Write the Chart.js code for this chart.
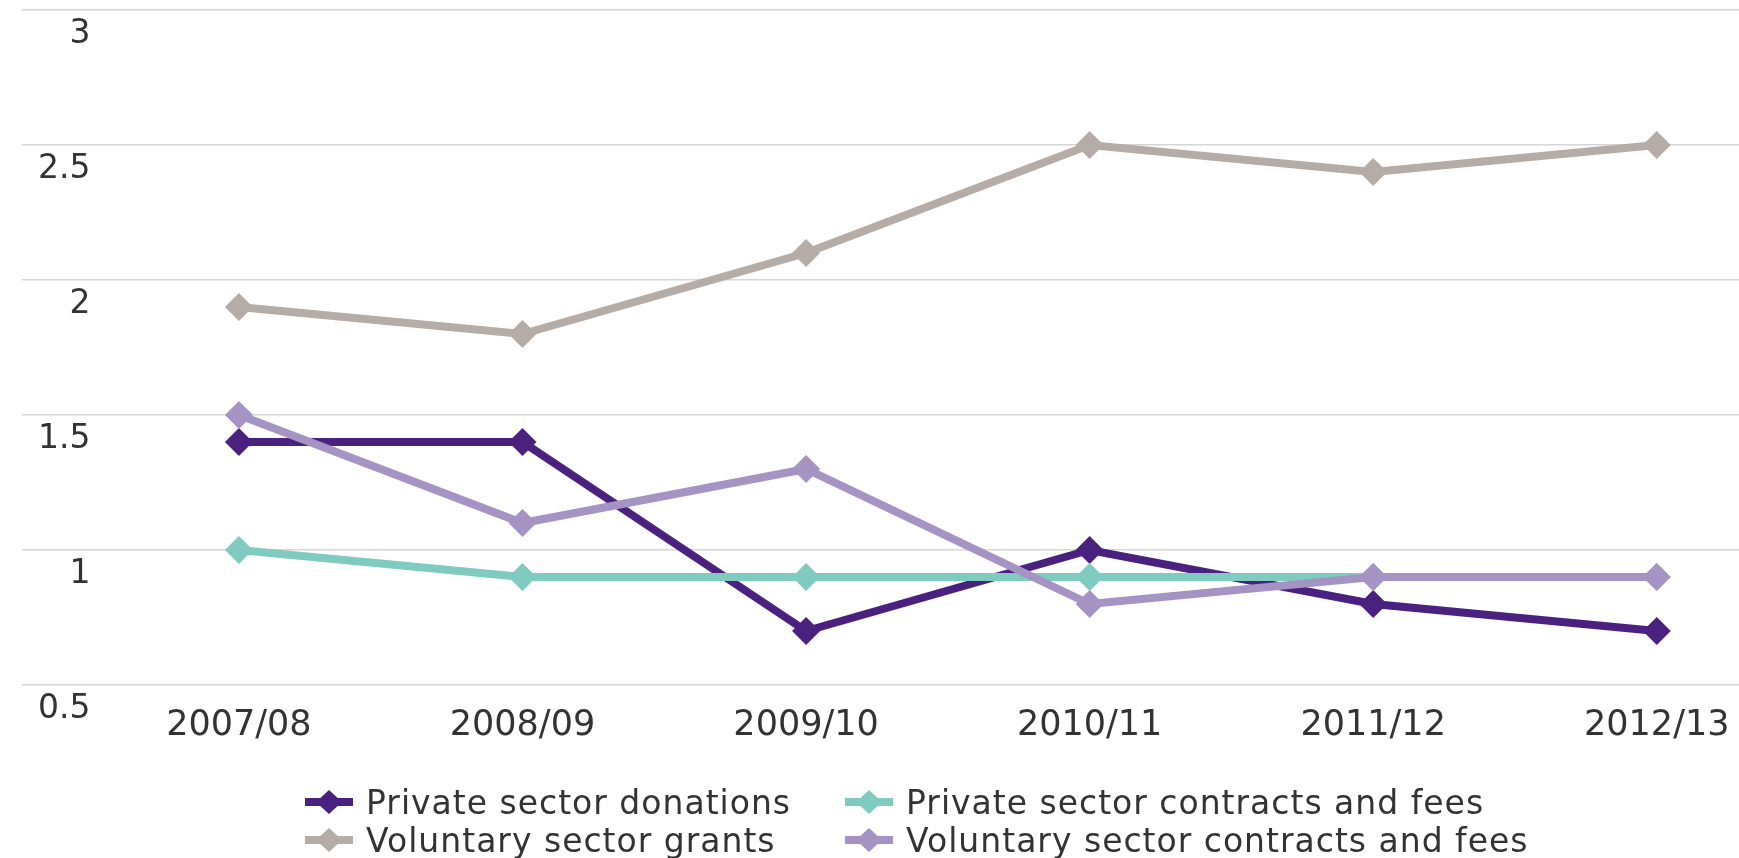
<!DOCTYPE html>
<html>
<head>
<meta charset="utf-8">
<title>Income by source</title>
<script src="https://cdn.jsdelivr.net/npm/chart.js@4.4.1/dist/chart.umd.min.js"></script>
<style>
  html, body { margin: 0; padding: 0; background: #fff; }
  #wrap { position: relative; width: 1739px; height: 858px; }
  #legend {
    position: absolute; left: 305px; top: 783px;
    display: grid; grid-template-columns: 540px auto;
  }
  .item {
    display: flex; align-items: center; height: 38px;
    font-family: "DejaVu Sans"; font-size: 33px; letter-spacing: 1px;
    color: #333; white-space: nowrap;
  }
  .item svg { margin-right: 13px; flex: none; }
</style>
</head>
<body>
<div id="wrap">
  <canvas id="incomeChart" width="1739" height="858"></canvas>
  <div id="legend"></div>
</div>
<script>
const periods = ['2007/08', '2008/09', '2009/10', '2010/11', '2011/12', '2012/13'];
const privateDonations = [1.4, 1.4, 0.7, 1.0, 0.8, 0.7];
const privateContracts = [1.0, 0.9, 0.9, 0.9, 0.9, 0.9];
const voluntaryGrants = [1.9, 1.8, 2.1, 2.5, 2.4, 2.5];
const voluntaryContracts = [1.5, 1.1, 1.3, 0.8, 0.9, 0.9];
const yTicks = [0.5, 1, 1.5, 2, 2.5, 3];

const toPoints = values => values.map((y, i) => ({ x: i, y: y }));

// order: lower numbers are painted last, so voluntary contracts sit on top
function series(label, values, color, order) {
    return {
        label: label,
        data: toPoints(values),
        order: order,
        borderColor: color,
        backgroundColor: color,
        borderWidth: 8,
        pointStyle: 'rectRot',
        pointRadius: 14,
        pointHoverRadius: 14,
        pointBorderWidth: 0,
        tension: 0
    };
}

const chart = new Chart(document.getElementById('incomeChart'), {
    type: 'line',
    data: {
        datasets: [
            series('Private sector donations', privateDonations, '#4b2180', 3),
            series('Private sector contracts and fees', privateContracts, '#7fcbbf', 2),
            series('Voluntary sector grants', voluntaryGrants, '#b6aca7', 1),
            series('Voluntary sector contracts and fees', voluntaryContracts, '#a593c4', 0)
        ]
    },
    options: {
        responsive: false,
        animation: false,
        events: [],
        layout: { autoPadding: false, padding: { left: 22, top: 10, right: 0, bottom: 91 } },
        plugins: {
            legend: { display: false },
            tooltip: { enabled: false }
        },
        scales: {
            x: {
                type: 'linear',
                bounds: 'data',
                min: -0.765,
                max: 5.29,
                afterBuildTicks: axis => { axis.ticks = periods.map((p, i) => ({ value: i })); },
                afterFit: axis => {
                    axis.paddingLeft = 0;
                    axis.paddingRight = 0;
                },
                grid: { display: false, drawTicks: false },
                border: { display: false },
                ticks: {
                    autoSkip: false,
                    maxRotation: 0,
                    padding: 20,
                    color: '#333',
                    font: { family: 'DejaVu Sans', size: 35 },
                    callback: v => periods[v]
                }
            },
            y: {
                min: yTicks[0],
                max: yTicks[yTicks.length - 1],
                afterBuildTicks: axis => { axis.ticks = yTicks.map(value => ({ value })); },
                // labels sit inside the plot, so the axis itself takes no room
                afterFit: axis => {
                    axis.width = 0;
                    axis.paddingTop = 0;
                    axis.paddingBottom = 0;
                },
                grid: { color: '#d6d6d6', lineWidth: 1.5, drawTicks: false },
                border: { display: false },
                ticks: {
                    mirror: true,
                    crossAlign: 'far',
                    padding: 16,
                    labelOffset: 24,
                    color: '#333',
                    font: { family: 'DejaVu Sans', size: 33 },
                    callback: v => String(v)
                }
            }
        }
    }
});

// legend below the plot, two columns, line + diamond marker per series
const legendBox = document.getElementById('legend');
chart.data.datasets.forEach(ds => {
    const item = document.createElement('div');
    item.className = 'item';
    item.innerHTML = `
        <svg width="48" height="26" viewBox="0 0 48 26">
            <line x1="0" y1="13" x2="48" y2="13" stroke="${ds.borderColor}" stroke-width="8"/>
            <polygon points="24,1 37,13 24,25 11,13" fill="${ds.borderColor}"/>
        </svg>
        <span>${ds.label}</span>`;
    legendBox.appendChild(item);
});
</script>
</body>
</html>
